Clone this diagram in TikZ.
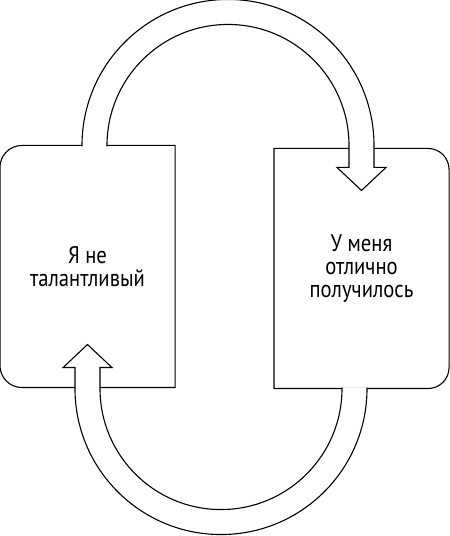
\documentclass[tikz,border=0pt]{standalone}
\usepackage{fontspec}
\setmainfont{PT Sans}[FakeStretch=0.86]
\usetikzlibrary{calc}

\begin{document}
\begin{tikzpicture}[x=1pt, y=1pt, line width=1.1pt,
		box/.style = {minimum width=174pt, align=center, inner sep=0pt,
			font=\fontsize{24}{23}\selectfont},
		flow/.style = {draw, fill=white, line join=miter}]
		\useasboundingbox (0,0) rectangle (450,536);
		\node[box, minimum height=241pt] (L) at (87.5,269.5) {Я не\\талантливый};
		\node[box, minimum height=239pt] (R) at (361.5,267.5) {У меня\\отлично\\получилось};
		% boxes, rounded only on the outer side
		\draw (L.north east) -- ($(L.north west)+(22,0)$) arc[start angle=90, end angle=180, radius=22]
			-- ($(L.south west)+(0,22)$) arc[start angle=180, end angle=270, radius=22]
			-- (L.south east) -- cycle;
		\draw (R.north west) -- ($(R.north east)+(-21,0)$) arc[start angle=90, end angle=0, radius=21]
			-- ($(R.south east)+(0,21)$) arc[start angle=0, end angle=-90, radius=21]
			-- (R.south west) -- cycle;
		% top arrow, L to R
		\filldraw[flow] ($(L.north)+(-5.5,-1)$) -- ++(0,1)
			arc[start angle=180, end angle=0, radius=146]
			-- ($(R.north)+(12.5,-19)$) -- ++(12,0) -- ($(R.north)+(0,-42)$)
			-- ($(R.north)+(-24.5,-19)$) -- ++(12,0)
			-- ($(R.north)+(-12.5,3)$) arc[start angle=0, end angle=180, radius=121] -- ++(0,-1);
		% bottom arrow, R to L
		\filldraw[flow] ($(R.south)+(5.5,1)$) -- ++(0,-1)
			arc[start angle=0, end angle=-180, radius=146]
			-- ($(L.south)+(-12.5,20)$) -- ++(-12,0) -- ($(L.south)+(0,43)$)
			-- ($(L.south)+(24.5,20)$) -- ++(-12,0)
			-- ($(L.south)+(12.5,-1)$) arc[start angle=180, end angle=360, radius=121] -- ++(0,1);
	\end{tikzpicture}
\end{document}
